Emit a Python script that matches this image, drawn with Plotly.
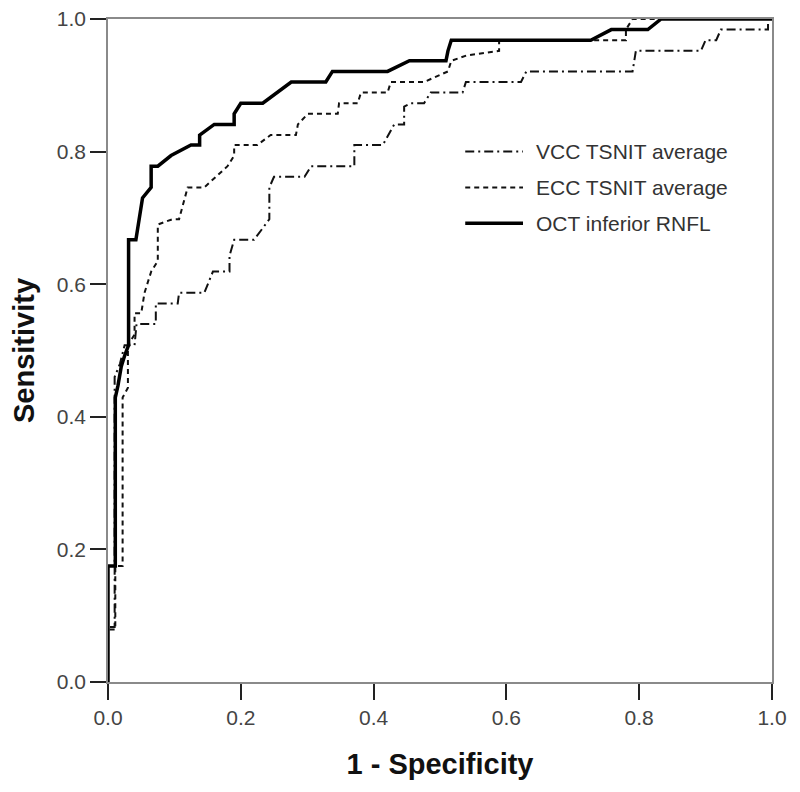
import plotly.graph_objects as go

# courbes ROC (1 - spécificité, sensibilité)
vcc_fpr = [0, 0, 0.01, 0.01, 0.01, 0.018, 0.025, 0.04, 0.043, 0.072, 0.072, 0.105, 0.107, 0.145,
           0.158, 0.183, 0.183, 0.19, 0.22, 0.243, 0.243, 0.25, 0.296, 0.306, 0.371, 0.371, 0.414,
           0.431, 0.446, 0.446, 0.456, 0.476, 0.486, 0.534, 0.539, 0.622, 0.63, 0.79, 0.795, 0.893,
           0.9, 0.916, 0.923, 0.994, 0.994, 1.0]
vcc_tpr = [0, 0.083, 0.083, 0.13, 0.46, 0.48, 0.508, 0.508, 0.54, 0.54, 0.571, 0.571, 0.587, 0.587,
           0.619, 0.619, 0.643, 0.667, 0.667, 0.698, 0.746, 0.762, 0.762, 0.778, 0.778, 0.81, 0.81,
           0.841, 0.841, 0.868, 0.873, 0.873, 0.889, 0.889, 0.905, 0.905, 0.921, 0.921, 0.952, 0.952,
           0.968, 0.968, 0.984, 0.984, 1.0, 1.0]

ecc_fpr = [0, 0, 0.011, 0.011, 0.022, 0.022, 0.03, 0.03, 0.04, 0.04, 0.05, 0.055, 0.065, 0.075,
           0.075, 0.097, 0.107, 0.12, 0.145, 0.18, 0.19, 0.19, 0.225, 0.245, 0.283, 0.286, 0.301,
           0.346, 0.348, 0.376, 0.381, 0.421, 0.426, 0.476, 0.512, 0.517, 0.54, 0.589, 0.589, 0.78,
           0.78, 0.79, 1.0]
ecc_tpr = [0, 0.079, 0.079, 0.175, 0.175, 0.429, 0.444, 0.508, 0.524, 0.556, 0.556, 0.587, 0.619,
           0.635, 0.69, 0.698, 0.698, 0.746, 0.746, 0.778, 0.794, 0.81, 0.81, 0.825, 0.825, 0.841,
           0.857, 0.857, 0.873, 0.873, 0.889, 0.889, 0.905, 0.905, 0.921, 0.937, 0.945, 0.952, 0.968,
           0.968, 0.984, 1.0, 1.0]

oct_fpr = [0, 0, 0.011, 0.011, 0.015, 0.02, 0.025, 0.031, 0.031, 0.042, 0.052, 0.065, 0.065, 0.075,
           0.095, 0.125, 0.138, 0.138, 0.16, 0.19, 0.19, 0.2, 0.233, 0.276, 0.328, 0.338, 0.421,
           0.454, 0.509, 0.512, 0.517, 0.727, 0.758, 0.813, 0.833, 1.0]
oct_tpr = [0, 0.175, 0.175, 0.429, 0.447, 0.476, 0.492, 0.508, 0.667, 0.667, 0.73, 0.746, 0.778,
           0.778, 0.794, 0.81, 0.81, 0.825, 0.841, 0.841, 0.857, 0.873, 0.873, 0.905, 0.905, 0.921,
           0.921, 0.937, 0.937, 0.952, 0.968, 0.968, 0.984, 0.984, 1.0, 1.0]

noms = ['VCC TSNIT average', 'ECC TSNIT average', 'OCT inferior RNFL']
ticks = [0.0, 0.2, 0.4, 0.6, 0.8, 1.0]
tick_labels = ['0.0', '0.2', '0.4', '0.6', '0.8', '1.0']

police = 'Liberation Sans, Arial, Helvetica, sans-serif'
styles = [
    dict(color='#111111', width=2, dash='9px,4px,2px,4px'),
    dict(color='#111111', width=2, dash='5px,4px'),
    dict(color='#000000', width=3.5, dash='solid'),
]

fig = go.Figure()
for nom, fx, fy, st in zip(noms, [vcc_fpr, ecc_fpr, oct_fpr], [vcc_tpr, ecc_tpr, oct_tpr], styles):
    fig.add_trace(go.Scatter(x=fx, y=fy, mode='lines', name=nom, line=st, showlegend=False))

# légende dessinée à la main (traits plus longs que ceux de plotly)
leg_y = [0.800, 0.746, 0.692]
for nom, st, yy in zip(noms, styles, leg_y):
    fig.add_shape(type='line', xref='paper', yref='paper', x0=0.538, x1=0.625, y0=yy, y1=yy,
                  line=st)
    fig.add_annotation(xref='paper', yref='paper', x=0.642, y=yy, text=nom, showarrow=False,
                       xanchor='left', yanchor='middle', font=dict(family=police, size=21, color='#333333'))

axe = dict(range=[0, 1], tickvals=ticks, ticktext=tick_labels, showgrid=False, zeroline=False,
           showline=True, linecolor='#8a8a8a', linewidth=1.5, mirror=True, automargin=False,
           ticks='outside', ticklen=16, tickwidth=2, tickcolor='#222222', ticklabeloverflow='allow',
           tickfont=dict(family=police, size=21, color='#444444'), layer='below traces')

fig.update_xaxes(**axe, title=dict(text='1 - Specificity', standoff=26,
                                   font=dict(family=police, size=29, color='#111111', weight='bold')))
fig.update_yaxes(**axe, title=dict(text='Sensitivity', standoff=16,
                                   font=dict(family=police, size=29, color='#111111', weight='bold')))

# la page ajoute ~8 px de marge autour du graphique
fig.update_layout(width=800, height=792, margin=dict(l=100, r=36, t=11, b=118),
                  plot_bgcolor='white', paper_bgcolor='white', showlegend=False)

fig.write_html('out.html')
print('out.html généré')
